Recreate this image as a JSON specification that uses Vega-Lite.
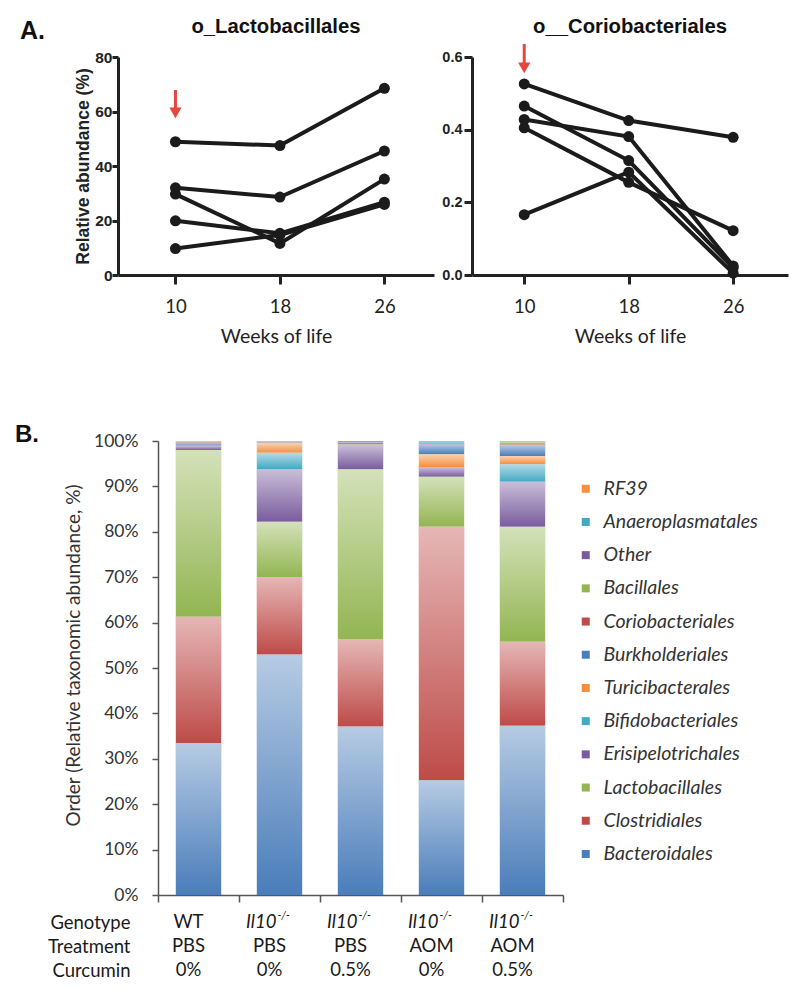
{
 "$schema": "https://vega.github.io/schema/vega-lite/v6.json",
 "padding": {"left": 15, "top": 16, "right": 5, "bottom": 5},
 "background": "white",
 "config": {"view": {"stroke": null}, "axis": {"grid": false}},
 "title": {"text": "A.", "anchor": "start", "frame": "group", "dx": -98, "offset": 0, "dy": 47, "baseline": "alphabetic", "font": "Liberation Sans", "fontSize": 25, "fontWeight": "bold", "color": "#111"},
 "datasets": {
  "lacto": [
   {"mouse": "m1", "week": 10, "value": 48.9}, {"mouse": "m1", "week": 18, "value": 47.5}, {"mouse": "m1", "week": 26, "value": 68.5},
   {"mouse": "m2", "week": 10, "value": 32.0}, {"mouse": "m2", "week": 18, "value": 28.6}, {"mouse": "m2", "week": 26, "value": 45.5},
   {"mouse": "m3", "week": 10, "value": 29.7}, {"mouse": "m3", "week": 18, "value": 11.6}, {"mouse": "m3", "week": 26, "value": 35.2},
   {"mouse": "m4", "week": 10, "value": 19.9}, {"mouse": "m4", "week": 18, "value": 15.3}, {"mouse": "m4", "week": 26, "value": 26.7},
   {"mouse": "m5", "week": 10, "value": 9.7}, {"mouse": "m5", "week": 18, "value": 14.7}, {"mouse": "m5", "week": 26, "value": 25.9}
  ],
  "corio": [
   {"mouse": "c1", "week": 10, "value": 0.526}, {"mouse": "c1", "week": 18, "value": 0.425}, {"mouse": "c1", "week": 26, "value": 0.379},
   {"mouse": "c2", "week": 10, "value": 0.465}, {"mouse": "c2", "week": 18, "value": 0.315}, {"mouse": "c2", "week": 26, "value": 0.02},
   {"mouse": "c3", "week": 10, "value": 0.428}, {"mouse": "c3", "week": 18, "value": 0.381}, {"mouse": "c3", "week": 26, "value": 0.025},
   {"mouse": "c4", "week": 10, "value": 0.405}, {"mouse": "c4", "week": 18, "value": 0.255}, {"mouse": "c4", "week": 26, "value": 0.122},
   {"mouse": "c5", "week": 10, "value": 0.166}, {"mouse": "c5", "week": 18, "value": 0.283}, {"mouse": "c5", "week": 26, "value": 0.005}
  ],
  "arrowL": [{"week": 10, "value": 67.9, "value2": 59.5}],
  "arrowC": [{"week": 10, "value": 0.636, "value2": 0.570}],
  "orders": [
   {"sample": "WT|PBS|0%", "order": "Bacteroidales", "idx": 0, "pct": 33.5},
   {"sample": "WT|PBS|0%", "order": "Clostridiales", "idx": 1, "pct": 27.8},
   {"sample": "WT|PBS|0%", "order": "Lactobacillales", "idx": 2, "pct": 36.7},
   {"sample": "WT|PBS|0%", "order": "Erisipelotrichales", "idx": 3, "pct": 0.9},
   {"sample": "WT|PBS|0%", "order": "Bifidobacteriales", "idx": 4, "pct": 0.2},
   {"sample": "WT|PBS|0%", "order": "Turicibacterales", "idx": 5, "pct": 0.1},
   {"sample": "WT|PBS|0%", "order": "Burkholderiales", "idx": 6, "pct": 0.3},
   {"sample": "WT|PBS|0%", "order": "Coriobacteriales", "idx": 7, "pct": 0.2},
   {"sample": "WT|PBS|0%", "order": "Bacillales", "idx": 8, "pct": 0.0},
   {"sample": "WT|PBS|0%", "order": "Other", "idx": 9, "pct": 0.0},
   {"sample": "WT|PBS|0%", "order": "Anaeroplasmatales", "idx": 10, "pct": 0.2},
   {"sample": "WT|PBS|0%", "order": "RF39", "idx": 11, "pct": 0.1},
   {"sample": "Il10|PBS|0%", "order": "Bacteroidales", "idx": 0, "pct": 53.0},
   {"sample": "Il10|PBS|0%", "order": "Clostridiales", "idx": 1, "pct": 17.0},
   {"sample": "Il10|PBS|0%", "order": "Lactobacillales", "idx": 2, "pct": 12.2},
   {"sample": "Il10|PBS|0%", "order": "Erisipelotrichales", "idx": 3, "pct": 11.6},
   {"sample": "Il10|PBS|0%", "order": "Bifidobacteriales", "idx": 4, "pct": 3.6},
   {"sample": "Il10|PBS|0%", "order": "Turicibacterales", "idx": 5, "pct": 2.2},
   {"sample": "Il10|PBS|0%", "order": "Burkholderiales", "idx": 6, "pct": 0.1},
   {"sample": "Il10|PBS|0%", "order": "Coriobacteriales", "idx": 7, "pct": 0.2},
   {"sample": "Il10|PBS|0%", "order": "Bacillales", "idx": 8, "pct": 0.0},
   {"sample": "Il10|PBS|0%", "order": "Other", "idx": 9, "pct": 0.0},
   {"sample": "Il10|PBS|0%", "order": "Anaeroplasmatales", "idx": 10, "pct": 0.0},
   {"sample": "Il10|PBS|0%", "order": "RF39", "idx": 11, "pct": 0.1},
   {"sample": "Il10|PBS|0.5%", "order": "Bacteroidales", "idx": 0, "pct": 37.1},
   {"sample": "Il10|PBS|0.5%", "order": "Clostridiales", "idx": 1, "pct": 19.2},
   {"sample": "Il10|PBS|0.5%", "order": "Lactobacillales", "idx": 2, "pct": 37.5},
   {"sample": "Il10|PBS|0.5%", "order": "Erisipelotrichales", "idx": 3, "pct": 5.3},
   {"sample": "Il10|PBS|0.5%", "order": "Bifidobacteriales", "idx": 4, "pct": 0.1},
   {"sample": "Il10|PBS|0.5%", "order": "Turicibacterales", "idx": 5, "pct": 0.1},
   {"sample": "Il10|PBS|0.5%", "order": "Burkholderiales", "idx": 6, "pct": 0.4},
   {"sample": "Il10|PBS|0.5%", "order": "Coriobacteriales", "idx": 7, "pct": 0.3},
   {"sample": "Il10|PBS|0.5%", "order": "Bacillales", "idx": 8, "pct": 0.0},
   {"sample": "Il10|PBS|0.5%", "order": "Other", "idx": 9, "pct": 0.0},
   {"sample": "Il10|PBS|0.5%", "order": "Anaeroplasmatales", "idx": 10, "pct": 0.0},
   {"sample": "Il10|PBS|0.5%", "order": "RF39", "idx": 11, "pct": 0.0},
   {"sample": "Il10|AOM|0%", "order": "Bacteroidales", "idx": 0, "pct": 25.3},
   {"sample": "Il10|AOM|0%", "order": "Clostridiales", "idx": 1, "pct": 55.8},
   {"sample": "Il10|AOM|0%", "order": "Lactobacillales", "idx": 2, "pct": 11.0},
   {"sample": "Il10|AOM|0%", "order": "Erisipelotrichales", "idx": 3, "pct": 2.1},
   {"sample": "Il10|AOM|0%", "order": "Bifidobacteriales", "idx": 4, "pct": 0.1},
   {"sample": "Il10|AOM|0%", "order": "Turicibacterales", "idx": 5, "pct": 2.8},
   {"sample": "Il10|AOM|0%", "order": "Burkholderiales", "idx": 6, "pct": 2.2},
   {"sample": "Il10|AOM|0%", "order": "Coriobacteriales", "idx": 7, "pct": 0.1},
   {"sample": "Il10|AOM|0%", "order": "Bacillales", "idx": 8, "pct": 0.0},
   {"sample": "Il10|AOM|0%", "order": "Other", "idx": 9, "pct": 0.0},
   {"sample": "Il10|AOM|0%", "order": "Anaeroplasmatales", "idx": 10, "pct": 0.4},
   {"sample": "Il10|AOM|0%", "order": "RF39", "idx": 11, "pct": 0.2},
   {"sample": "Il10|AOM|0.5%", "order": "Bacteroidales", "idx": 0, "pct": 37.3},
   {"sample": "Il10|AOM|0.5%", "order": "Clostridiales", "idx": 1, "pct": 18.5},
   {"sample": "Il10|AOM|0.5%", "order": "Lactobacillales", "idx": 2, "pct": 25.3},
   {"sample": "Il10|AOM|0.5%", "order": "Erisipelotrichales", "idx": 3, "pct": 9.9},
   {"sample": "Il10|AOM|0.5%", "order": "Bifidobacteriales", "idx": 4, "pct": 3.9},
   {"sample": "Il10|AOM|0.5%", "order": "Turicibacterales", "idx": 5, "pct": 1.8},
   {"sample": "Il10|AOM|0.5%", "order": "Burkholderiales", "idx": 6, "pct": 2.4},
   {"sample": "Il10|AOM|0.5%", "order": "Coriobacteriales", "idx": 7, "pct": 0.2},
   {"sample": "Il10|AOM|0.5%", "order": "Bacillales", "idx": 8, "pct": 0.5},
   {"sample": "Il10|AOM|0.5%", "order": "Other", "idx": 9, "pct": 0.1},
   {"sample": "Il10|AOM|0.5%", "order": "Anaeroplasmatales", "idx": 10, "pct": 0.0},
   {"sample": "Il10|AOM|0.5%", "order": "RF39", "idx": 11, "pct": 0.1}
  ],
  "table": [
   {"sample": "WT|PBS|0%", "row": "Genotype", "label": "WT", "sup": "", "kind": "plain"},
   {"sample": "WT|PBS|0%", "row": "Treatment", "label": "PBS", "sup": "", "kind": "plain"},
   {"sample": "WT|PBS|0%", "row": "Curcumin", "label": "0%", "sup": "", "kind": "plain"},
   {"sample": "Il10|PBS|0%", "row": "Genotype", "label": "Il10", "sup": "-/-", "kind": "italic"},
   {"sample": "Il10|PBS|0%", "row": "Treatment", "label": "PBS", "sup": "", "kind": "plain"},
   {"sample": "Il10|PBS|0%", "row": "Curcumin", "label": "0%", "sup": "", "kind": "plain"},
   {"sample": "Il10|PBS|0.5%", "row": "Genotype", "label": "Il10", "sup": "-/-", "kind": "italic"},
   {"sample": "Il10|PBS|0.5%", "row": "Treatment", "label": "PBS", "sup": "", "kind": "plain"},
   {"sample": "Il10|PBS|0.5%", "row": "Curcumin", "label": "0.5%", "sup": "", "kind": "plain"},
   {"sample": "Il10|AOM|0%", "row": "Genotype", "label": "Il10", "sup": "-/-", "kind": "italic"},
   {"sample": "Il10|AOM|0%", "row": "Treatment", "label": "AOM", "sup": "", "kind": "plain"},
   {"sample": "Il10|AOM|0%", "row": "Curcumin", "label": "0%", "sup": "", "kind": "plain"},
   {"sample": "Il10|AOM|0.5%", "row": "Genotype", "label": "Il10", "sup": "-/-", "kind": "italic"},
   {"sample": "Il10|AOM|0.5%", "row": "Treatment", "label": "AOM", "sup": "", "kind": "plain"},
   {"sample": "Il10|AOM|0.5%", "row": "Curcumin", "label": "0.5%", "sup": "", "kind": "plain"}
  ]
 },
 "bounds": "flush",
 "spacing": 384,
 "vconcat": [
  {
   "bounds": "flush",
   "spacing": 38,
   "hconcat": [
    {
     "width": 316, "height": 218,
     "title": {"text": "o_Lactobacillales", "font": "Liberation Sans", "fontSize": 20.3, "fontWeight": "bold", "color": "#111", "baseline": "alphabetic", "offset": 0, "dy": 3},
     "layer": [
      {"data": {"name": "lacto"}, "mark": {"type": "line", "color": "#1b1b1b", "strokeWidth": 4},
       "encoding": {
        "x": {"field": "week", "type": "quantitative", "scale": {"domain": [5.6, 29.8], "nice": false, "zero": false},
              "axis": {"values": [10, 18, 26], "labelFont": "Lato", "labelFontSize": 18.5, "labelColor": "#222", "labelPadding": 13, "tickSize": 9, "tickWidth": 3, "tickColor": "#222", "domainWidth": 3, "domainColor": "#222", "title": "Weeks of life", "titleFont": "Lato", "titleFontSize": 19.5, "titleFontWeight": "normal", "titleColor": "#222", "titlePadding": 12}},
        "y": {"field": "value", "type": "quantitative", "scale": {"domain": [0, 80], "nice": false},
              "axis": {"values": [0, 20, 40, 60, 80], "labelFont": "Liberation Sans", "labelFontSize": 15.5, "labelFontWeight": "bold", "labelColor": "#222", "labelPadding": 0, "tickSize": 6, "tickWidth": 3, "tickColor": "#222", "domainWidth": 3, "domainColor": "#222", "title": "Relative abundance (%)", "titleFont": "Liberation Sans", "titleFontSize": 17.5, "titleFontWeight": "bold", "titleColor": "#222", "titlePadding": 2}},
        "detail": {"field": "mouse", "type": "nominal"}
       }},
      {"data": {"name": "lacto"}, "mark": {"type": "point", "filled": true, "size": 121, "color": "#1b1b1b", "opacity": 1},
       "encoding": {"x": {"field": "week", "type": "quantitative"}, "y": {"field": "value", "type": "quantitative"}}},
      {"data": {"name": "arrowL"}, "mark": {"type": "rule", "color": "#E8453C", "strokeWidth": 3},
       "encoding": {"x": {"field": "week", "type": "quantitative"}, "y": {"field": "value", "type": "quantitative"}, "y2": {"field": "value2"}}},
      {"data": {"name": "arrowL"}, "mark": {"type": "point", "shape": "triangle-down", "filled": true, "size": 150, "color": "#E8453C", "opacity": 1},
       "encoding": {"x": {"field": "week", "type": "quantitative"}, "y": {"field": "value2", "type": "quantitative"}}}
     ]
    },
    {
     "width": 316, "height": 218,
     "title": {"text": "o__Coriobacteriales", "font": "Liberation Sans", "fontSize": 20.3, "fontWeight": "bold", "color": "#111", "baseline": "alphabetic", "offset": 0, "dy": 11},
     "layer": [
      {"data": {"name": "corio"}, "mark": {"type": "line", "color": "#1b1b1b", "strokeWidth": 4},
       "encoding": {
        "x": {"field": "week", "type": "quantitative", "scale": {"domain": [6, 30.2], "nice": false, "zero": false},
              "axis": {"values": [10, 18, 26], "labelFont": "Lato", "labelFontSize": 18.5, "labelColor": "#222", "labelPadding": 13, "tickSize": 9, "tickWidth": 3, "tickColor": "#222", "domainWidth": 3, "domainColor": "#222", "title": "Weeks of life", "titleFont": "Lato", "titleFontSize": 19.5, "titleFontWeight": "normal", "titleColor": "#222", "titlePadding": 12}},
        "y": {"field": "value", "type": "quantitative", "scale": {"domain": [0, 0.6], "nice": false},
              "axis": {"values": [0, 0.2, 0.4, 0.6], "format": ".1f", "labelFont": "Liberation Sans", "labelFontSize": 14.5, "labelFontWeight": "bold", "labelColor": "#222", "labelPadding": 2, "tickSize": 8, "tickWidth": 3, "tickColor": "#222", "domainWidth": 3, "domainColor": "#222", "title": null}},
        "detail": {"field": "mouse", "type": "nominal"}
       }},
      {"data": {"name": "corio"}, "mark": {"type": "point", "filled": true, "size": 121, "color": "#1b1b1b", "opacity": 1},
       "encoding": {"x": {"field": "week", "type": "quantitative"}, "y": {"field": "value", "type": "quantitative"}}},
      {"data": {"name": "arrowC"}, "mark": {"type": "rule", "color": "#E8453C", "strokeWidth": 3},
       "encoding": {"x": {"field": "week", "type": "quantitative"}, "y": {"field": "value", "type": "quantitative"}, "y2": {"field": "value2"}}},
      {"data": {"name": "arrowC"}, "mark": {"type": "point", "shape": "triangle-down", "filled": true, "size": 150, "color": "#E8453C", "opacity": 1},
       "encoding": {"x": {"field": "week", "type": "quantitative"}, "y": {"field": "value2", "type": "quantitative"}}}
     ]
    }
   ]
  },
  {
   "bounds": "flush",
   "spacing": 20,
   "hconcat": [
    {"width": 20, "height": 10, "data": {"values": []}, "mark": "point"},
    {
     "bounds": "flush",
     "spacing": 15,
     "vconcat": [
      {
       "width": 405, "height": 454,
       "title": {"text": "B.", "anchor": "start", "frame": "group", "dx": -143, "offset": 0, "dy": 34, "baseline": "alphabetic", "font": "Liberation Sans", "fontSize": 24, "fontWeight": "bold", "color": "#111"},
       "data": {"name": "orders"},
       "transform": [{"stack": "pct", "groupby": ["sample"], "sort": [{"field": "idx", "order": "ascending"}], "as": ["y0", "y1"], "offset": "normalize"}],
       "encoding": {
        "x": {"field": "sample", "type": "nominal", "sort": ["WT|PBS|0%", "Il10|PBS|0%", "Il10|PBS|0.5%", "Il10|AOM|0%", "Il10|AOM|0.5%"],
              "scale": {"paddingInner": 0, "paddingOuter": 0},
              "axis": {"title": null, "labels": false, "tickBand": "extent", "domainColor": "#555", "domainWidth": 1.5, "tickColor": "#555", "tickWidth": 1.5, "tickSize": 7}},
        "y": {"field": "y0", "type": "quantitative", "scale": {"domain": [0, 1], "nice": false},
              "axis": {"values": [0, 0.1, 0.2, 0.3, 0.4, 0.5, 0.6, 0.7, 0.8, 0.9, 1], "format": ".0%", "labelFont": "Lato", "labelFontSize": 17.5, "labelColor": "#333", "labelPadding": 14, "tickSize": 6, "tickWidth": 1.5, "tickColor": "#555", "domainColor": "#555", "domainWidth": 1.5, "title": "Order (Relative taxonomic abundance, %)", "titleFont": "Lato", "titleFontSize": 19, "titleFontWeight": "normal", "titleColor": "#333", "titlePadding": 10, "titleY": 214}},
        "y2": {"field": "y1"}
       },
       "layer": [
        {"mark": {"type": "bar", "width": {"band": 0.56}},
         "encoding": {
          "color": {"field": "order", "type": "nominal",
                    "scale": {"domain": ["RF39", "Anaeroplasmatales", "Other", "Bacillales", "Coriobacteriales", "Burkholderiales", "Turicibacterales", "Bifidobacteriales", "Erisipelotrichales", "Lactobacillales", "Clostridiales", "Bacteroidales"],
                              "range": ["#F58F3E", "#43A8C3", "#7A5C9E", "#93B552", "#BE4B48", "#4A7DBA", "#F58F3E", "#43A8C3", "#7A5C9E", "#93B552", "#BE4B48", "#4A7DBA"]},
                    "legend": {"title": null, "orient": "none", "legendX": 458, "legendY": 422, "symbolType": "square", "symbolSize": 64, "symbolStrokeWidth": 0, "symbolOpacity": 1, "labelFont": "Lato", "labelFontStyle": "italic", "labelFontSize": 19.5, "labelColor": "#333", "labelOffset": 8, "rowPadding": 12.2, "padding": 0, "labelLimit": 300}}
         }},
        {"mark": {"type": "bar", "width": {"band": 0.56},
                  "color": {"gradient": "linear", "x1": 0, "y1": 0, "x2": 0, "y2": 1, "stops": [{"offset": 0, "color": "rgba(255,255,255,0.6)"}, {"offset": 1, "color": "rgba(255,255,255,0)"}]}}}
       ]
      },
      {
       "width": 405, "height": 72,
       "data": {"name": "table"},
       "encoding": {
        "x": {"field": "sample", "type": "nominal", "sort": ["WT|PBS|0%", "Il10|PBS|0%", "Il10|PBS|0.5%", "Il10|AOM|0%", "Il10|AOM|0.5%"], "scale": {"paddingInner": 0, "paddingOuter": 0}, "axis": null},
        "y": {"field": "row", "type": "nominal", "sort": ["Genotype", "Treatment", "Curcumin"], "scale": {"paddingInner": 0, "paddingOuter": 0},
              "axis": {"title": null, "domain": false, "ticks": false, "labelFont": "Lato", "labelFontSize": 18.5, "labelColor": "#1a1a1a", "labelPadding": 28}}
       },
       "layer": [
        {"transform": [{"filter": "datum.kind == 'plain'"}], "mark": {"type": "text", "font": "Lato", "fontSize": 18.5, "color": "#1a1a1a", "dx": -10}, "encoding": {"text": {"field": "label"}}},
        {"transform": [{"filter": "datum.kind == 'italic'"}], "mark": {"type": "text", "font": "Lato", "fontSize": 18.5, "fontStyle": "italic", "color": "#1a1a1a", "align": "right", "dx": -3}, "encoding": {"text": {"field": "label"}}},
        {"transform": [{"filter": "datum.kind == 'italic'"}], "mark": {"type": "text", "font": "Lato", "fontSize": 11, "fontStyle": "italic", "color": "#1a1a1a", "align": "left", "dx": -2, "dy": -6}, "encoding": {"text": {"field": "sup"}}}
       ]
      }
     ]
    }
   ]
  }
 ]
}
